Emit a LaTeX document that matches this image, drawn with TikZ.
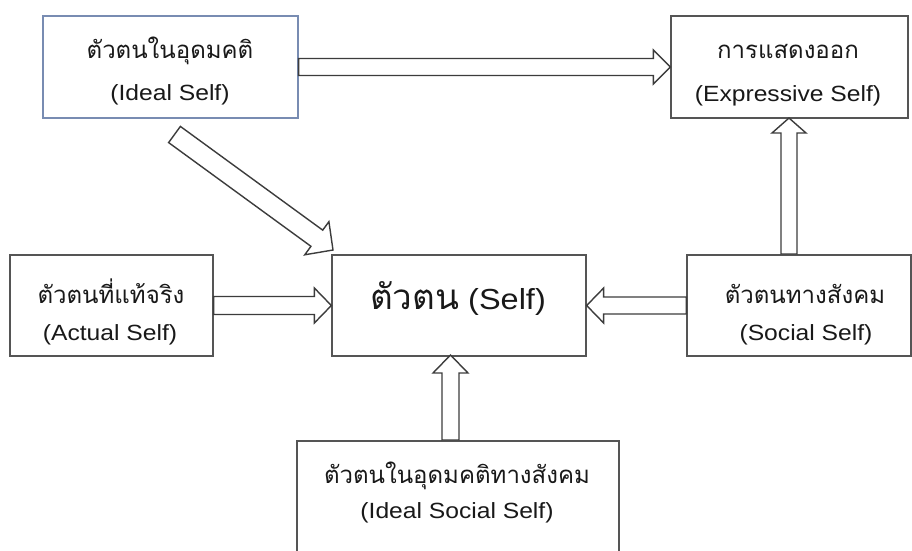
\documentclass[tikz,border=0pt]{standalone}
\usepackage{fontspec}
\usetikzlibrary{calc}
\newfontfamily\thaifont[Script=Thai]{Loma}
\newfontfamily\latfont[FakeStretch=1.12]{Liberation Sans}
\definecolor{boxgrey}{RGB}{85,85,85}
\definecolor{bluegrey}{RGB}{120,140,178}
\definecolor{arrgrey}{RGB}{60,60,60}
\definecolor{txt}{RGB}{25,25,25}
\tikzset{
  box/.style={draw=boxgrey, line width=1.3pt, fill=white, inner sep=0pt},
  arrline/.style={draw=arrgrey, line width=1.4pt, fill=white, line join=miter},
  thtxt/.style={anchor=base, inner sep=0pt, text=txt, font=\thaifont\fontsize{24pt}{28pt}\selectfont},
  lttxt/.style={anchor=base, inner sep=0pt, text=txt, font=\latfont\fontsize{22pt}{26pt}\selectfont},
}
\newcommand\blockarr[5]{%
  \path let \p1=(#1), \p2=(#2), \n1={atan2((\y2)-(\y1),(\x2)-(\x1))}, \n2={veclen((\x2)-(\x1),(\y2)-(\y1))} in
    \pgfextra{\xdef\bax{\x1}\xdef\bay{\y1}\xdef\baa{\n1}\xdef\bal{\n2}};
  \draw[arrline, shift={(\bax,\bay)}, rotate=\baa]
    (0pt,-#3pt) -- (\bal-#5pt,-#3pt) -- (\bal-#5pt,-#4pt) -- (\bal,0pt)
    -- (\bal-#5pt,#4pt) -- (\bal-#5pt,#3pt) -- (0pt,#3pt) -- cycle;
}
\begin{document}
\begin{tikzpicture}[x=1pt,y=-1pt]
\useasboundingbox (0,0) rectangle (912,550);
\clip (0,0) rectangle (912,550);
\fill[white] (0,0) rectangle (912,550);
% boxes
\node[box, draw=bluegrey, minimum width=255pt, minimum height=102pt] (ideal) at (170.5,67) {};
\node[box, minimum width=237pt, minimum height=102pt] (expr) at (789.5,67) {};
\node[box, minimum width=203pt, minimum height=101pt] (actual) at (111.5,305.5) {};
\node[box, minimum width=254pt, minimum height=101pt] (self) at (459,305.5) {};
\node[box, minimum width=224pt, minimum height=101pt] (social) at (799,305.5) {};
\node[box, minimum width=322pt, minimum height=140pt] (isocial) at (458,511) {};
% texts
\node[thtxt] (idealth) at (170,58) {ตัวตนในอุดมคติ};
\node[lttxt] (idealla) at (170,100) {(Ideal Self)};
\node[thtxt] (exprth) at (788,58) {การแสดงออก};
\node[lttxt] (exprla) at (788,101) {(Expressive Self)};
\node[thtxt] (actualth) at (111,303) {ตัวตนที่แท้จริง};
\node[lttxt] (actualla) at (110,340) {(Actual Self)};
\node[thtxt] (socialth) at (805,303) {ตัวตนทางสังคม};
\node[lttxt] (socialla) at (806,340) {(Social Self)};
\node[thtxt] (isocialth) at (457,483) {ตัวตนในอุดมคติทางสังคม};
\node[lttxt] (isocialla) at (457,518) {(Ideal Social Self)};
\node[anchor=base, inner sep=0pt, text=txt] (selft) at (458,309)
  {{\thaifont\fontsize{35pt}{39pt}\selectfont ตัวตน}{\latfont\fontsize{29pt}{33pt}\selectfont\ (Self)}};
% arrow end points
\coordinate (diagS) at (174.5,134.5);
\coordinate (diagE) at (333,250);
\coordinate (upS) at (789,254);
\coordinate (upE) at (789,118);
\coordinate (up2S) at (450.5,440);
\coordinate (up2E) at (450.5,355);
% arrows
\blockarr{ideal.east}{expr.west}{8.5}{17}{17}
\blockarr{diagS}{diagE}{10}{20.5}{20}
\blockarr{actual.east}{self.west}{9}{17.5}{17}
\blockarr{social.west}{self.east}{8.5}{17.5}{17}
\blockarr{upS}{upE}{8}{17}{15}
\blockarr{up2S}{up2E}{8.5}{17.5}{18}
\end{tikzpicture}
\end{document}
